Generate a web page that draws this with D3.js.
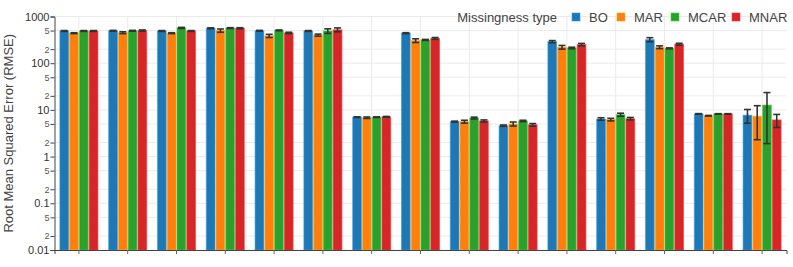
<!DOCTYPE html>
<html>
<head>
<meta charset="utf-8">
<script src="https://cdn.jsdelivr.net/npm/d3@7"></script>
<style>
  body { margin: 0; background: #fff; }
  text { font-family: "Liberation Sans", Arial, sans-serif; }
</style>
</head>
<body>
<div id="chart"></div>
<script>
// 数据
const groups = ['G1', 'G2', 'G3', 'G4', 'G5', 'G6', 'G7', 'G8', 'G9', 'G10', 'G11', 'G12', 'G13', 'G14', 'G15']
const seriesNames = ['BO', 'MAR', 'MCAR', 'MNAR']
const colors = ['#1f77b4', '#ff7f0e', '#2ca02c', '#d62728']

const BO = [490, 495, 490, 560, 495, 490, 7.0, 440, 5.6, 4.6, 290, 6.4, 320, 8.2, 7.7]
const MAR = [440, 450, 440, 500, 385, 400, 6.8, 305, 5.6, 5.0, 220, 6.2, 220, 7.5, 7.3]
const MCAR = [490, 495, 570, 565, 505, 490, 7.0, 315, 6.7, 5.8, 212, 7.9, 208, 8.2, 12.7]
const MNAR = [490, 500, 490, 560, 445, 520, 7.1, 340, 5.8, 4.8, 250, 6.5, 255, 8.2, 6.1]

const BO_err = [10, 10, 10, 12, 10, 10, 0.1, 10, 0.15, 0.15, 15, 0.4, 32, 0.12, 2.5]
const MAR_err = [10, 20, 10, 40, 30, 20, 0.25, 28, 0.4, 0.5, 20, 0.4, 15, 0.12, 5]
const MCAR_err = [10, 10, 15, 12, 10, 55, 0.1, 8, 0.3, 0.2, 8, 0.6, 5, 0.1, 10.8]
const MNAR_err = [10, 15, 10, 15, 15, 50, 0.15, 15, 0.3, 0.3, 15, 0.4, 12, 0.1, 1.9]

const yTicks = [0.01, 0.02, 0.05, 0.1, 0.2, 0.5, 1, 2, 5, 10, 20, 50, 100, 200, 500, 1000]

const values = [BO, MAR, MCAR, MNAR]
const errs = [BO_err, MAR_err, MCAR_err, MNAR_err]

const width = 793
const height = 267
const margin = { left: 54.5, right: 6.5, top: 16.5, bottom: 17 }

const svg = d3.select('#chart').append('svg')
  .attr('width', width).attr('height', height)

const x0 = d3.scaleBand().domain(groups).range([margin.left, width - margin.right]).padding(0)
const x1 = d3.scaleBand().domain(seriesNames).range([x0.bandwidth() * 0.1, x0.bandwidth() * 0.9]).padding(0)
const y = d3.scaleLog().domain([0.01, 1000]).range([height - margin.bottom, margin.top])

// 网格线
const grid = svg.append('g')
grid.selectAll('line.h').data(yTicks).enter().append('line')
  .attr('x1', margin.left).attr('x2', width - margin.right)
  .attr('y1', d => y(d)).attr('y2', d => y(d))
  .attr('stroke', '#ebebeb').attr('stroke-width', 1)
grid.selectAll('line.v').data(groups).enter().append('line')
  .attr('x1', d => x0(d) + x0.bandwidth() / 2).attr('x2', d => x0(d) + x0.bandwidth() / 2)
  .attr('y1', margin.top).attr('y2', height - margin.bottom)
  .attr('stroke', '#ebebeb').attr('stroke-width', 1)

// 柱子
const bars = []
groups.forEach((g, i) => {
  seriesNames.forEach((s, j) => {
    bars.push({ g: g, s: s, j: j, v: values[j][i], e: errs[j][i] })
  })
})

svg.append('g').selectAll('rect').data(bars).enter().append('rect')
  .attr('x', d => x0(d.g) + x1(d.s) + 0.5)
  .attr('width', x1.bandwidth() - 1)
  .attr('y', d => y(d.v))
  .attr('height', d => y.range()[0] - y(d.v))
  .attr('fill', d => colors[d.j])
  .attr('stroke', d => d3.color(colors[d.j]).brighter(0.8))
  .attr('stroke-opacity', 0.6)
  .attr('stroke-width', 1)

// 误差线
const eb = svg.append('g').attr('stroke', '#333').attr('stroke-width', 1.6)
bars.forEach(d => {
  const cx = x0(d.g) + x1(d.s) + x1.bandwidth() / 2
  const lo = Math.max(d.v - d.e, 0.011)
  const y1 = y(d.v + d.e)
  const y2 = y(lo)
  eb.append('line').attr('x1', cx).attr('x2', cx).attr('y1', y1).attr('y2', y2)
  eb.append('line').attr('x1', cx - 3.5).attr('x2', cx + 3.5).attr('y1', y1).attr('y2', y1)
  eb.append('line').attr('x1', cx - 3.5).attr('x2', cx + 3.5).attr('y1', y2).attr('y2', y2)
})

// 坐标轴
const isMajor = d => Math.abs(Math.log10(d) - Math.round(Math.log10(d))) < 1e-6
const yAxis = svg.append('g')
  .attr('transform', 'translate(' + margin.left + ',0)')
  .call(d3.axisLeft(y).tickValues(yTicks).tickSize(4).tickFormat(d => isMajor(d) ? String(d) : String(Math.round(d / Math.pow(10, Math.floor(Math.log10(d) + 1e-9))))))
yAxis.select('.domain').attr('stroke', '#444')
yAxis.selectAll('.tick line').attr('stroke', '#444')
yAxis.selectAll('.tick text')
  .attr('fill', d => isMajor(d) ? '#333' : '#555')
  .style('font-size', d => isMajor(d) ? '11px' : '9px')
  .style('font-family', '"Liberation Sans", Arial, sans-serif')
  .attr('x', -5)

const xAxis = svg.append('g')
  .attr('transform', 'translate(0,' + (height - margin.bottom) + ')')
  .call(d3.axisBottom(x0).tickSize(4).tickFormat(''))
xAxis.select('.domain').attr('stroke', '#444')
xAxis.selectAll('.tick line').attr('stroke', '#666')

// y轴标题
svg.append('text')
  .attr('transform', 'translate(13,' + ((margin.top + height - margin.bottom) / 2) + ') rotate(-90)')
  .attr('text-anchor', 'middle')
  .attr('fill', '#444')
  .style('font-size', '13px')
  .text('Root Mean Squared Error (RMSE)')

// 图例
const legend = svg.append('g')
legend.append('text').attr('x', 557).attr('y', 22).attr('text-anchor', 'end')
  .attr('fill', '#444').style('font-size', '13px').text('Missingness type')
const legendX = [572, 617, 671, 732]
seriesNames.forEach((s, j) => {
  legend.append('rect').attr('x', legendX[j]).attr('y', 13).attr('width', 8).attr('height', 8)
    .attr('fill', colors[j])
    .attr('stroke', d3.color(colors[j]).brighter(0.8)).attr('stroke-opacity', 0.6)
  legend.append('text').attr('x', legendX[j] + 17).attr('y', 22)
    .attr('fill', '#444').style('font-size', '13px').text(s)
})
</script>
</body>
</html>
